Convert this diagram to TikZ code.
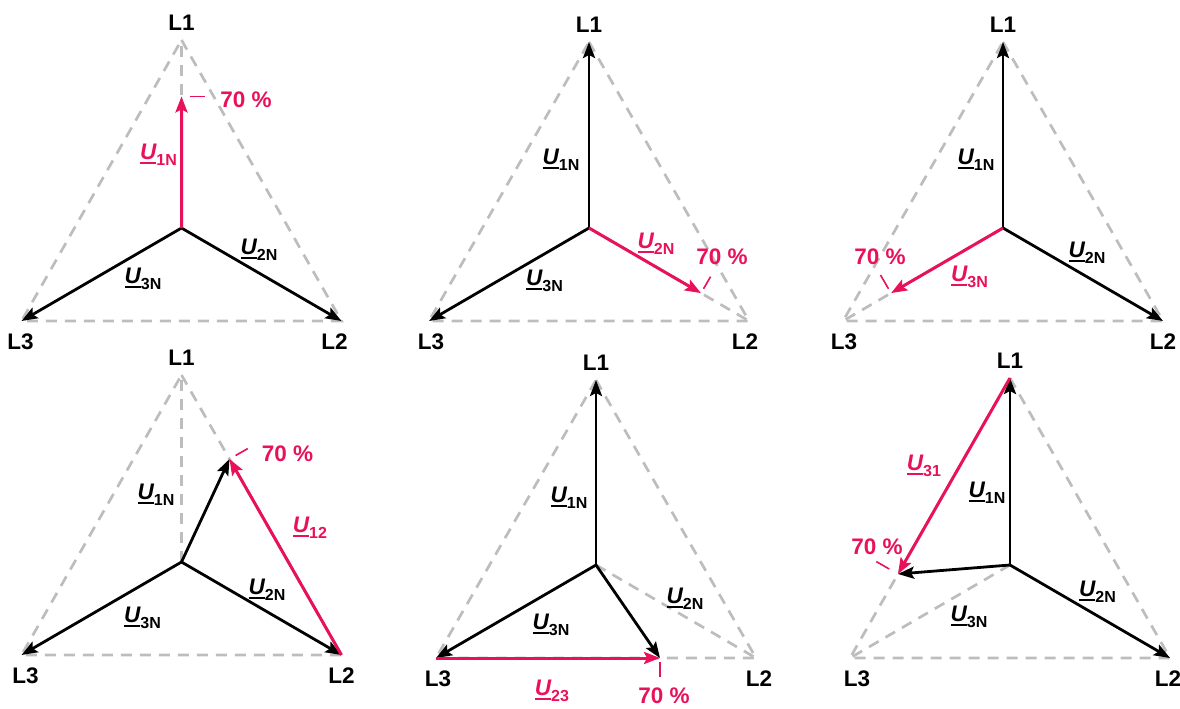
\documentclass[tikz,border=0pt]{standalone}
\usepackage{fontspec}
\setmainfont{Liberation Sans}
\usetikzlibrary{arrows.meta,positioning,calc}
\definecolor{faultred}{HTML}{E8115A}
\definecolor{guidegray}{HTML}{BDBDBD}
\newcommand{\uvolt}[1]{\setbox0\hbox{\itshape U}\rlap{\rule[-4.5pt]{\wd0}{2.2pt}}\box0\raisebox{-6.5pt}{\fontsize{16}{16}\selectfont #1}}

\begin{document}
\begin{tikzpicture}[x=1pt, y=-1pt,
  phase/.style={font=\bfseries\fontsize{22.5}{22.5}\selectfont, inner sep=0pt},
  pct/.style={font=\bfseries\fontsize{22.5}{22.5}\selectfont, text=faultred, inner sep=0pt},
  ulbl/.style={font=\bfseries\fontsize{22.5}{22.5}\selectfont, inner sep=0pt},
  hot/.style={text=faultred},
  guide/.style={guidegray, line width=2.7pt, dash pattern=on 11pt off 8pt},
  arr/.style={-{Stealth[length=16pt, width=12pt, inset=3pt]}, line width=2.8pt, black},
  redarr/.style={arr, faultred, line width=3pt},
  tickmark/.style={faultred, line width=1.6pt}
]
  \useasboundingbox (0,0) rectangle (1180,709);

  % six triangles L1-L2-L3 round the star point N
  \foreach \p/\cx/\cy/\h/\dl/\dr in {a/181.5/228/188/-1/-7, b/589/228/186/2/-4, c/1003/228/186/1/0,
                                     d/181.5/562/187/4/0, e/596/565/185/2/3, f/1010/565/187/7/-2} {
    \coordinate (\p-N) at (\cx,\cy);
    \coordinate (\p-L1) at (\cx,\cy-\h);
    \coordinate (\p-L2) at (\cx+160,\cy+93);
    \coordinate (\p-L3) at (\cx-160,\cy+93);
    \node[phase] (\p-l1) at ([yshift=17pt]\p-L1) {L1};
    \node[phase] (\p-l2) at ($(\p-L2)+(\dr,21)$) {L2};
    \node[phase] (\p-l3) at ($(\p-L3)+(\dl,21)$) {L3};
    \draw[guide] (\p-L1) -- (\p-L2) -- (\p-L3) -- cycle;
  }

  \coordinate (a-T) at ($(a-N)!0.7!(a-L1)$);
  \coordinate (b-T) at ($(b-N)!0.7!(b-L2)$);
  \coordinate (c-T) at ($(c-N)!0.7!(c-L3)$);
  \coordinate (d-T) at ($(d-L2)!0.7!(d-L1)$);
  \coordinate (e-T) at ($(e-L3)!0.7!(e-L2)$);
  \coordinate (f-T) at ($(f-L1)!0.7!(f-L3)$);

  % U1N at 70 %
  \draw[guide] (a-N) -- (a-L1);
  \draw[arr] (a-N) -- (a-L2);
  \draw[arr] (a-N) -- (a-L3);
  \draw[redarr] (a-N) -- (a-T);
  \draw[tickmark] ($(a-T)!8pt!-90:(a-L1)$) -- ($(a-T)!23pt!-90:(a-L1)$);
  \node[pct] (a-pct) at ($(a-T)+(64.5,3.5)$) {70 \%};
  \node[ulbl, hot] (a-u1) at ($(a-N)+(-23,-73)$) {\uvolt{1N}};
  \node[ulbl] (a-u2) at ($(a-N)+(77.5,22)$) {\uvolt{2N}};
  \node[ulbl] (a-u3) at ($(a-N)+(-38.5,51)$) {\uvolt{3N}};

  % U2N at 70 %
  \draw[guide] (b-N) -- (b-L2);
  \draw[arr] (b-N) -- (b-L1);
  \draw[arr] (b-N) -- (b-L3);
  \draw[redarr] (b-N) -- (b-T);
  \draw[tickmark] ($(b-T)!5pt!90:(b-L2)$) -- ($(b-T)!19pt!90:(b-L2)$);
  \node[pct] (b-pct) at ($(b-T)+(21,-36)$) {70 \%};
  \node[ulbl] (b-u1) at ($(b-N)+(-28,-68)$) {\uvolt{1N}};
  \node[ulbl, hot] (b-u2) at ($(b-N)+(67,16)$) {\uvolt{2N}};
  \node[ulbl] (b-u3) at ($(b-N)+(-44.5,53)$) {\uvolt{3N}};

  % U3N at 70 %
  \draw[guide] (c-N) -- (c-L3);
  \draw[arr] (c-N) -- (c-L1);
  \draw[arr] (c-N) -- (c-L2);
  \draw[redarr] (c-N) -- (c-T);
  \draw[tickmark] ($(c-T)!5pt!-90:(c-L3)$) -- ($(c-T)!21pt!-90:(c-L3)$);
  \node[pct] (c-pct) at ($(c-T)+(-11,-36)$) {70 \%};
  \node[ulbl] (c-u1) at ($(c-N)+(-27,-68)$) {\uvolt{1N}};
  \node[ulbl] (c-u2) at ($(c-N)+(84,25)$) {\uvolt{2N}};
  \node[ulbl, hot] (c-u3) at ($(c-N)+(-33.5,49)$) {\uvolt{3N}};

  % U12 at 70 %
  \draw[guide] (d-N) -- (d-L1);
  \draw[arr] (d-N) -- (d-T);
  \draw[arr] (d-N) -- (d-L2);
  \draw[arr] (d-N) -- (d-L3);
  \draw[redarr] (d-L2) -- (d-T);
  \draw[tickmark] ($(d-T)!7pt!-90:(d-L1)$) -- ($(d-T)!21pt!-90:(d-L1)$);
  \node[pct] (d-pct) at ($(d-T)+(58,-5.5)$) {70 \%};
  \node[ulbl] (d-u1) at ($(d-N)+(-25.5,-67)$) {\uvolt{1N}};
  \node[ulbl] (d-u2) at ($(d-N)+(85.5,28)$) {\uvolt{2N}};
  \node[ulbl] (d-u3) at ($(d-N)+(-39,56)$) {\uvolt{3N}};
  \node[ulbl, hot] (d-u12) at ($(d-N)+(128.5,-34)$) {\uvolt{12}};

  % U23 at 70 %
  \draw[guide] (e-N) -- (e-L2);
  \draw[arr] (e-N) -- (e-L1);
  \draw[arr] (e-N) -- (e-T);
  \draw[arr] (e-N) -- (e-L3);
  \draw[redarr] (e-L3) -- (e-T);
  \draw[tickmark] ($(e-T)!4pt!-90:(e-L2)$) -- ($(e-T)!19pt!-90:(e-L2)$);
  \node[pct] (e-pct) at ($(e-T)+(4,37.5)$) {70 \%};
  \node[ulbl] (e-u1) at ($(e-N)+(-27,-67)$) {\uvolt{1N}};
  \node[ulbl] (e-u2) at ($(e-N)+(89,34)$) {\uvolt{2N}};
  \node[ulbl] (e-u3) at ($(e-N)+(-45,60)$) {\uvolt{3N}};
  \node[ulbl, hot] (e-u23) at ($(e-N)+(-44,126)$) {\uvolt{23}};

  % U31 at 70 %
  \draw[guide] (f-N) -- (f-L3);
  \draw[arr] (f-N) -- (f-L1);
  \draw[arr] (f-N) -- (f-L2);
  \draw[arr] (f-N) -- (f-T);
  \draw[redarr] (f-L1) -- (f-T);
  \draw[tickmark] ($(f-T)!10pt!-90:(f-L3)$) -- ($(f-T)!25pt!-90:(f-L3)$);
  \node[pct] (f-pct) at ($(f-T)+(-21,-27.5)$) {70 \%};
  \node[ulbl] (f-u1) at ($(f-N)+(-23,-72)$) {\uvolt{1N}};
  \node[ulbl] (f-u2) at ($(f-N)+(87.5,27)$) {\uvolt{2N}};
  \node[ulbl] (f-u3) at ($(f-N)+(-41,52)$) {\uvolt{3N}};
  \node[ulbl, hot] (f-u31) at ($(f-N)+(-86,-99)$) {\uvolt{31}};
\end{tikzpicture}
\end{document}
